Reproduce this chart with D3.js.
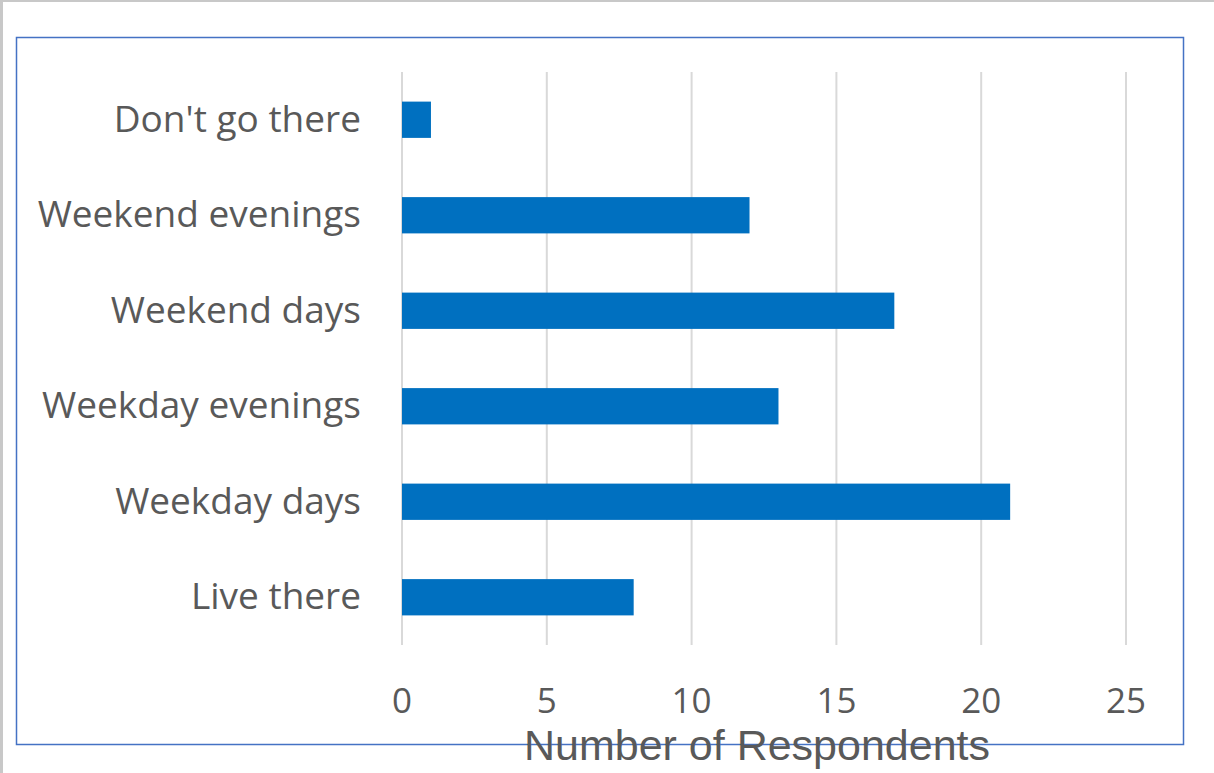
<!DOCTYPE html>
<html>
<head>
<meta charset="utf-8">
<script src="https://cdn.jsdelivr.net/npm/d3@7"></script>
<style>
  body { margin: 0; background: #fff; }
</style>
</head>
<body>
<div id="chart"></div>
<script>
// values
const categories = ["Don't go there", "Weekend evenings", "Weekend days", "Weekday evenings", "Weekday days", "Live there"];
const respondents = [1, 12, 17, 13, 21, 8];
const xTicks = [0, 5, 10, 15, 20, 25];

const width = 1214,
      height = 773;

const svg = d3.select("#chart")
.append("svg")
  .attr("width", width)
  .attr("height", height);

// page edge shading
svg.append("rect")
  .attr("x", 0).attr("y", 0)
  .attr("width", width).attr("height", 2)
  .attr("fill", "#c8c8c8");
svg.append("rect")
  .attr("x", 0).attr("y", 0)
  .attr("width", 3).attr("height", height)
  .attr("fill", "#c8c8c8");

const margin = {left: 402, right: 88, top: 72, bottom: 128};

const x = d3.scaleLinear()
.domain([0, 25])
.range([margin.left, width - margin.right]);

const y = d3.scaleBand()
.domain(categories)
.range([margin.top, height - margin.bottom])
.paddingInner(0.62)
.paddingOuter(0.31);

// gridlines
svg.append("g")
.selectAll("line")
.data(xTicks)
.enter()
.append("line")
  .attr("x1", d => x(d))
  .attr("x2", d => x(d))
  .attr("y1", margin.top)
  .attr("y2", height - margin.bottom)
  .attr("stroke", "#d9d9d9")
  .attr("stroke-width", 2);

svg.append("g")
.selectAll("rect")
.data(categories)
.enter()
.append("rect")
  .attr("x", x(0))
  .attr("y", d => y(d))
  .attr("width", (d, i) => x(respondents[i]) - x(0))
  .attr("height", y.bandwidth())
  .attr("fill", "#0070c0");

// category labels
svg.append("g")
.selectAll("text")
.data(categories)
.enter()
.append("text")
  .attr("x", 361)
  .attr("y", d => y(d) + y.bandwidth() / 2)
  .attr("dy", "0.33em")
  .attr("text-anchor", "end")
  .attr("font-family", "'Open Sans', sans-serif")
  .attr("font-size", 37)
  .attr("fill", "#595959")
  .text(d => d);

// tick labels
svg.append("g")
.selectAll("text")
.data(xTicks)
.enter()
.append("text")
  .attr("x", d => x(d))
  .attr("y", 713)
  .attr("text-anchor", "middle")
  .attr("font-family", "'Open Sans', sans-serif")
  .attr("font-size", 35)
  .attr("fill", "#595959")
  .text(d => d);

// chart border
svg.append("rect")
  .attr("x", 16.5).attr("y", 37.5)
  .attr("width", 1167).attr("height", 707)
  .attr("fill", "none")
  .attr("stroke", "#4472c4")
  .attr("stroke-width", 1.5);

svg.append("text")
  .attr("x", 757)
  .attr("y", 760)
  .attr("text-anchor", "middle")
  .attr("font-family", "'Liberation Sans', sans-serif")
  .attr("font-size", 43)
  .attr("fill", "#595959")
  .text("Number of Respondents");
</script>
</body>
</html>
